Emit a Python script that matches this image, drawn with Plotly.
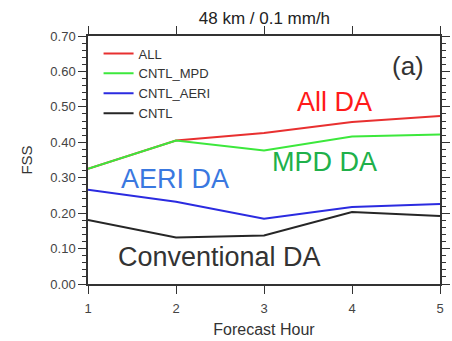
import plotly.graph_objects as go

hours = [1, 2, 3, 4, 5]
series_names = ["ALL", "CNTL_MPD", "CNTL_AERI", "CNTL"]
fss_all = [0.325, 0.405, 0.426, 0.457, 0.474]
fss_mpd = [0.325, 0.405, 0.377, 0.416, 0.422]
fss_aeri = [0.266, 0.232, 0.184, 0.217, 0.226]
fss_cntl = [0.181, 0.131, 0.137, 0.203, 0.192]
line_colors = ["#e83030", "#3ce83c", "#2b2be0", "#262626"]
y_ticks = [0.0, 0.1, 0.2, 0.3, 0.4, 0.5, 0.6, 0.7]
y_tick_text = ["0.00", "0.10", "0.20", "0.30", "0.40", "0.50", "0.60", "0.70"]

FONT = "Liberation Sans, Arial, sans-serif"
AX = "#333333"

fig = go.Figure()
for name, vals, col in zip(series_names, [fss_all, fss_mpd, fss_aeri, fss_cntl], line_colors):
    fig.add_trace(go.Scatter(x=hours, y=vals, mode="lines", name=name,
                             line=dict(color=col, width=2)))

fig.update_layout(
    width=452, height=341,
    margin=dict(l=88, r=12, t=36, b=57, autoexpand=False),
    paper_bgcolor="white", plot_bgcolor="white",
    font=dict(family=FONT, color=AX),
    title=dict(text="48 km / 0.1 mm/h", x=0.585, xanchor="center", y=0.947, yanchor="middle",
               font=dict(size=17, color="#222222")),
    showlegend=True,
    legend=dict(x=0.03, y=0.99, xanchor="left", yanchor="top", bgcolor="rgba(0,0,0,0)",
                font=dict(size=13, color="#333333"), tracegroupgap=0, itemwidth=30),
)

fig.update_xaxes(range=[1, 5], tickvals=hours, ticks="outside", ticklen=8, tickwidth=1.2,
                 tickcolor=AX, showline=True, linecolor=AX, linewidth=1.5, mirror="ticks",
                 showgrid=False, zeroline=False, tickfont=dict(size=13, color="#444444"),
                 automargin=False, ticklabelstandoff=4,
                 title=dict(text="Forecast Hour", font=dict(size=16, color="#333333"), standoff=8))
fig.update_yaxes(range=[0, 0.7], tickvals=y_ticks, ticktext=y_tick_text, ticks="outside",
                 ticklen=8, tickwidth=1.2, tickcolor=AX, showline=True, linecolor=AX,
                 linewidth=1.5, mirror="ticks", showgrid=False, zeroline=False,
                 tickfont=dict(size=13, color="#444444"), automargin=False,
                 minor=dict(dtick=0.02, ticks="outside", ticklen=4, tickcolor=AX, tickwidth=1, showgrid=False),
                 title=dict(text="FSS", font=dict(size=15, color="#333333"), standoff=14))

annotations = [
    ("All DA", 3.8, 0.515, "#ff1a1a", 27),
    ("MPD DA", 3.69, 0.345, "#20b04a", 27),
    ("AERI DA", 1.99, 0.295, "#3a78e0", 27),
    ("Conventional DA", 2.49, 0.076, "#333333", 27),
    ("(a)", 4.64, 0.615, "#333333", 26),
]
for text, x, y, col, size in annotations:
    fig.add_annotation(x=x, y=y, xref="x", yref="y", text=text, showarrow=False,
                       font=dict(size=size, color=col, family=FONT))

fig.write_html("out.html")
